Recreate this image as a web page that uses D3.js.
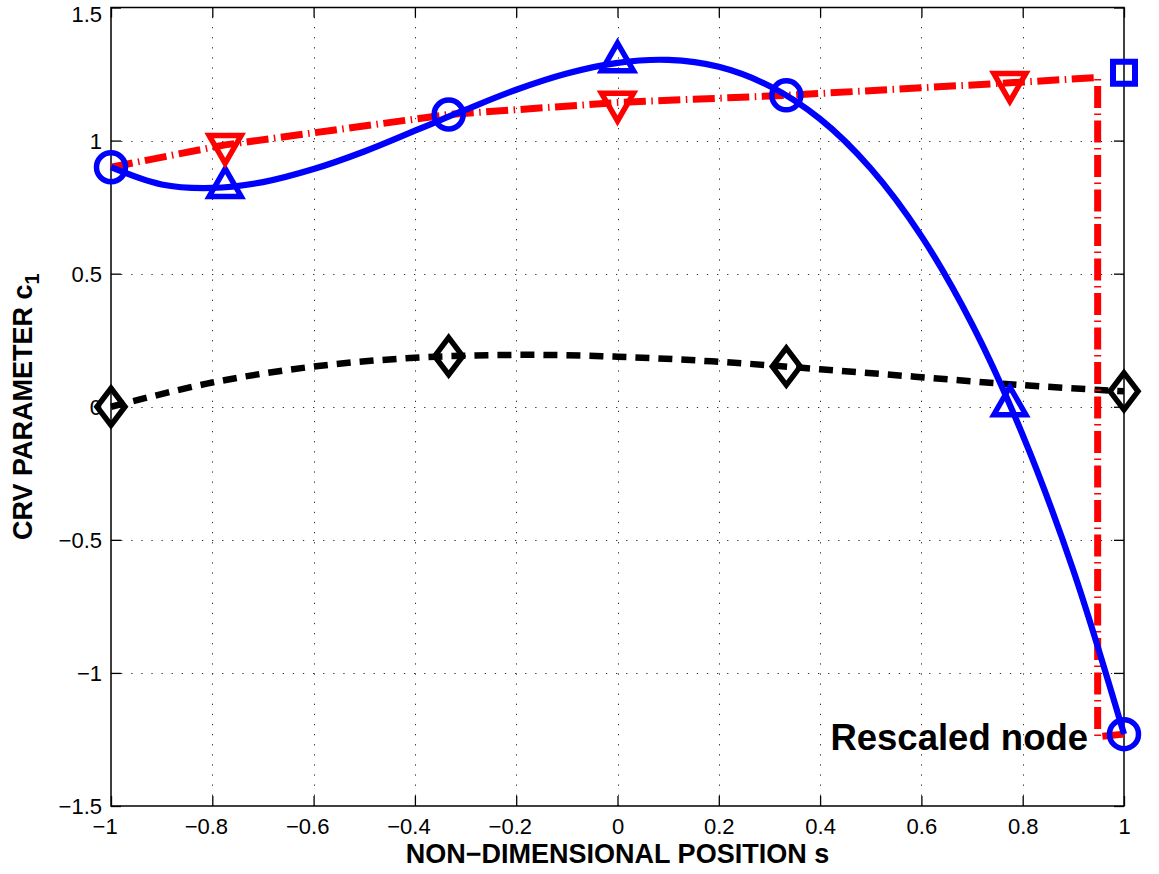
<!DOCTYPE html>
<html>
<head>
<meta charset="utf-8">
<script src="https://cdn.jsdelivr.net/npm/d3@7"></script>
<style>
  html, body { margin: 0; padding: 0; background: #fff; }
  svg { display: block; font-family: "Liberation Sans", Arial, Helvetica, sans-serif; }
</style>
</head>
<body>
<svg id="chart" width="1159" height="874"></svg>
<script>
// ---------------- data ----------------
const xTicks = [-1, -0.8, -0.6, -0.4, -0.2, 0, 0.2, 0.4, 0.6, 0.8, 1];
const yTicks = [-1.5, -1, -0.5, 0, 0.5, 1, 1.5];

// blue solid curve
const blueCurveS = [-1, -0.9, -0.8, -0.7, -0.6, -0.5, -0.4, -0.3, -0.2, -0.1, 0, 0.1, 0.2, 0.3, 0.4, 0.5, 0.6, 0.7, 0.8, 0.9, 1];
const blueCurveV = [0.90, 0.835, 0.822, 0.844, 0.893, 0.959, 1.037, 1.116, 1.191, 1.252, 1.292, 1.303, 1.277, 1.205, 1.081, 0.895, 0.641, 0.31, -0.106, -0.615, -1.23];

// blue circles
const circleS = [-1, -0.3333, 0.3333, 1];
const circleV = [0.90, 1.098, 1.17, -1.23];

// blue up-triangles
const blueTriS = [-0.7746, 0, 0.7746];
const blueTriV = [0.825, 1.297, 0.005];

// red dash-dot line
const redLineS = [-1, -0.7746, -0.3333, 0, 0.3333, 0.7746, 0.948, 0.948, 1];
const redLineV = [0.90, 0.984, 1.098, 1.143, 1.17, 1.217, 1.237, -1.24, -1.23];

// red down-triangles
const redTriS = [-0.7746, 0, 0.7746];
const redTriV = [0.984, 1.143, 1.217];

// blue square (rescaled node)
const squareS = [1];
const squareV = [1.255];

// black dashed curve
const blackCurveS = [-1, -0.8, -0.6, -0.4, -0.2, 0, 0.2, 0.4, 0.6, 0.8, 1];
const blackCurveV = [0.0, 0.091, 0.151, 0.184, 0.195, 0.188, 0.169, 0.141, 0.111, 0.081, 0.058];

// black diamonds
const diamondS = [-1, -0.3333, 0.3333, 1];
const diamondV = [0.0, 0.190, 0.151, 0.058];

const xLabel = "NON\u2212DIMENSIONAL POSITION s";
const yLabel = "CRV PARAMETER c";
const yLabelSub = "1";
const annotation = "Rescaled node";
const annotationS = 0.929;
const annotationV = -1.29;

// ---------------- chart ----------------
const svg = d3.select("#chart");
const L = 111, R = 1124, T = 7.5, B = 806;
const x = d3.scaleLinear().domain([-1, 1]).range([L, R]);
const y = d3.scaleLinear().domain([-1.5, 1.5]).range([B, T]);

const zip = (a, b) => a.map((v, i) => [v, b[i]]);
const fmt = d => (d < 0 ? "\u2212" : "") + d3.format("")(Math.abs(d));

// grid
const grid = svg.append("g");
grid.selectAll("line.vx").data(xTicks.slice(1, -1)).join("line")
  .attr("x1", d => Math.round(x(d)) + 0.5).attr("x2", d => Math.round(x(d)) + 0.5)
  .attr("y1", B).attr("y2", T)
  .attr("stroke", "#333").attr("stroke-width", 1).attr("stroke-dasharray", "1.3,8.8");
grid.selectAll("line.hy").data(yTicks.slice(1, -1)).join("line")
  .attr("y1", d => Math.round(y(d)) + 0.5).attr("y2", d => Math.round(y(d)) + 0.5)
  .attr("x1", L).attr("x2", R)
  .attr("stroke", "#333").attr("stroke-width", 1).attr("stroke-dasharray", "1.3,8.8");

// axes
const tickFont = 22;
const gx = svg.append("g").attr("transform", `translate(0,${B})`)
  .call(d3.axisBottom(x).tickValues(xTicks).tickFormat(d => d3.format("")(Math.abs(d)))
    .tickSizeInner(-10).tickSizeOuter(0).tickPadding(12.5));
const gy = svg.append("g").attr("transform", `translate(${L},0)`)
  .call(d3.axisLeft(y).tickValues(yTicks).tickFormat(fmt)
    .tickSizeInner(-10).tickSizeOuter(0).tickPadding(9));
const gt = svg.append("g").attr("transform", `translate(0,${T})`)
  .call(d3.axisTop(x).tickValues(xTicks).tickFormat("").tickSizeInner(-10).tickSizeOuter(0));
const gr = svg.append("g").attr("transform", `translate(${R},0)`)
  .call(d3.axisRight(y).tickValues(yTicks).tickFormat("").tickSizeInner(-10).tickSizeOuter(0));

[gx, gy, gt, gr].forEach(g => {
  g.select(".domain").remove();
  g.selectAll(".tick line").attr("stroke", "#000").attr("stroke-width", 1.3);
  g.selectAll("text").attr("font-size", tickFont).attr("fill", "#000")
    .attr("font-family", "'Liberation Sans', Arial, sans-serif");
});
// x labels: number centered on tick, minus sign hanging to the left
gx.selectAll(".tick text").each(function(d) {
  if (d < 0) {
    const t = d3.select(this);
    const w = this.getComputedTextLength();
    t.text("\u2212" + d3.format("")(Math.abs(d)))
      .attr("text-anchor", "end").attr("x", w / 2);
  }
});
gy.selectAll(".tick text").attr("dy", "0.34em");
// top label kept inside the picture
gy.selectAll(".tick").filter(d => d === 1.5).select("text").attr("dy", "0.62em");

// box
svg.append("rect").attr("x", L).attr("y", T).attr("width", R - L).attr("height", B - T)
  .attr("fill", "none").attr("stroke", "#000").attr("stroke-width", 1.5);

// shapes
const markerPath = (type, size) => d3.symbol().type(type).size(size)();
const diamondPath = (w, h) => {
  const p = d3.path();
  p.moveTo(0, -h / 2); p.lineTo(w / 2, 0); p.lineTo(0, h / 2); p.lineTo(-w / 2, 0); p.closePath();
  return p.toString();
};

const lineGen = d3.line().x(d => x(d[0])).y(d => y(d[1]));
const smoothGen = d3.line().x(d => x(d[0])).y(d => y(d[1])).curve(d3.curveCatmullRom.alpha(0.5));

// black dashed curve
svg.append("path").datum(zip(blackCurveS, blackCurveV)).attr("d", smoothGen)
  .attr("fill", "none").attr("stroke", "#000").attr("stroke-width", 6.5)
  .attr("stroke-dasharray", "14,9");
svg.append("g").selectAll("path").data(zip(diamondS, diamondV)).join("path")
  .attr("transform", d => `translate(${x(d[0])},${y(d[1])})`)
  .attr("d", diamondPath(28, 37))
  .attr("fill", "none").attr("stroke", "#000").attr("stroke-width", 5.5).attr("stroke-linejoin", "miter");

// red dash-dot line
svg.append("path").datum(zip(redLineS, redLineV)).attr("d", lineGen)
  .attr("fill", "none").attr("stroke", "#ff0000").attr("stroke-width", 7)
  .attr("stroke-dasharray", "22,5.5,1.5,5.5");

// blue curve
svg.append("path").datum(zip(blueCurveS, blueCurveV)).attr("d", smoothGen)
  .attr("fill", "none").attr("stroke", "#0000ff").attr("stroke-width", 6.2);

// blue circles
svg.append("g").selectAll("path").data(zip(circleS, circleV)).join("path")
  .attr("transform", d => `translate(${x(d[0])},${y(d[1])})`)
  .attr("d", markerPath(d3.symbolCircle, Math.PI * 14.5 * 14.5))
  .attr("fill", "none").attr("stroke", "#0000ff").attr("stroke-width", 5.5);

// blue up-triangles
svg.append("g").selectAll("path").data(zip(blueTriS, blueTriV)).join("path")
  .attr("transform", d => `translate(${x(d[0])},${y(d[1])})`)
  .attr("d", markerPath(d3.symbolTriangle, Math.sqrt(3) / 4 * 32 * 32))
  .attr("fill", "none").attr("stroke", "#0000ff").attr("stroke-width", 5.5).attr("stroke-linejoin", "miter");

// blue square
svg.append("g").selectAll("path").data(zip(squareS, squareV)).join("path")
  .attr("transform", d => `translate(${x(d[0])},${y(d[1])})`)
  .attr("d", markerPath(d3.symbolSquare, 22 * 22))
  .attr("fill", "none").attr("stroke", "#0000ff").attr("stroke-width", 6).attr("stroke-linejoin", "miter");

// red down-triangles
svg.append("g").selectAll("path").data(zip(redTriS, redTriV)).join("path")
  .attr("transform", d => `translate(${x(d[0])},${y(d[1])}) rotate(180)`)
  .attr("d", markerPath(d3.symbolTriangle, Math.sqrt(3) / 4 * 32 * 32))
  .attr("fill", "none").attr("stroke", "#ff0000").attr("stroke-width", 5.5).attr("stroke-linejoin", "miter");

// annotation
svg.append("text").attr("x", x(annotationS)).attr("y", y(annotationV))
  .attr("text-anchor", "end").attr("font-size", 36.5).attr("font-weight", "bold")
  .attr("fill", "#000").text(annotation);

// axis labels
svg.append("text").attr("x", (L + R) / 2).attr("y", 863)
  .attr("text-anchor", "middle").attr("font-size", 27).attr("font-weight", "bold")
  .text(xLabel);

const yl = svg.append("text").attr("transform", `translate(32,${(T + B) / 2}) rotate(-90)`)
  .attr("text-anchor", "middle").attr("font-size", 27).attr("font-weight", "bold");
yl.append("tspan").text(yLabel);
yl.append("tspan").attr("dy", 7).attr("font-size", 20).text(yLabelSub);
</script>
</body>
</html>
